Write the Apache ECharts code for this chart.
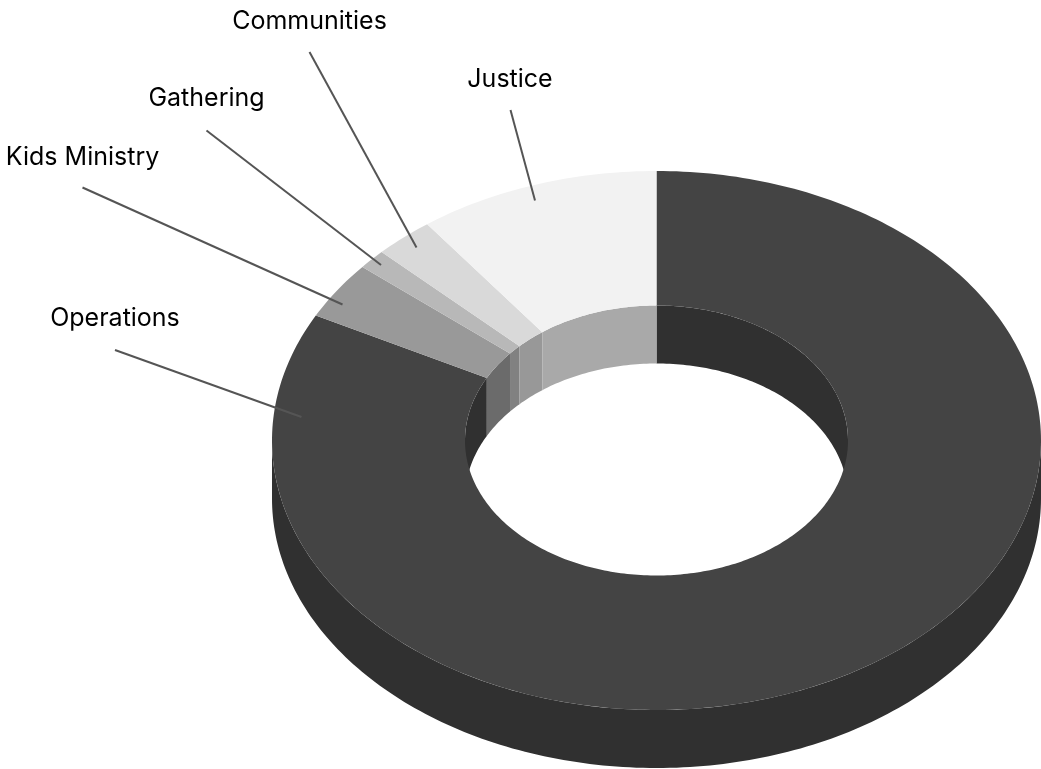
<!DOCTYPE html>
<html><head><meta charset="utf-8">
<style>html,body{margin:0;padding:0;background:#fff}#c{width:1041px;height:769px}</style>
<script src="https://cdn.jsdelivr.net/npm/echarts@6/dist/echarts.min.js"></script>
</head><body><div id="c"></div>
<script>
// ---- data (clockwise from 12 o'clock) ----
const categories = ['Operations','Kids Ministry','Gathering','Communities','Justice'];
const shares = [82.67, 3.47, 1.18, 2.51, 10.17];
const faceColors = ['#444444','#999999','#b8b8b8','#d9d9d9','#f2f2f2'];
// ---- layout (not data) ----
const centerX = 656.5, centerY = 440.5, outerRX = 384.5, outerRY = 269.5, innerRX = 191.5, innerRY = 135, depth = 58;
const wallShade = 0.7;
const labelCenters = [[115,318.5],[82.5,157.5],[206.5,98.5],[309.5,21.5],[510,79.5]];
const leaderStarts = [[115,350],[82.5,187.5],[206.5,130.5],[309.5,52],[510.5,110]];
const leaderEnds = [[301.5,417],[342.5,304.5],[381,265],[416.5,247.5],[535,200.5]];
const fontSize = 25, fontFamily = 'Inter';

const total = shares.reduce((a,b)=>a+b,0);
let run = 0;
const spans = shares.map(v=>{const s=run/total*360; run+=v; return [s, run/total*360];});
function ell(rx,ry,deg,dy){const t=deg*Math.PI/180;return [centerX+rx*Math.sin(t),centerY-ry*Math.cos(t)+dy];}
function arc(rx,ry,a,b,dy){const n=Math.max(2,Math.ceil(Math.abs(b-a)));const o=[];for(let i=0;i<=n;i++)o.push(ell(rx,ry,a+(b-a)*i/n,dy));return o;}
function shade(hex){const n=parseInt(hex.slice(1),16);const f=c=>Math.round(c*wallShade);return 'rgb('+f(n>>16)+','+f((n>>8)&255)+','+f(n&255)+')';}
function overlap(s,lo,hi){const a=Math.max(s[0],lo),b=Math.min(s[1],hi);return b>a?[a,b]:null;}
const poly=(api,pts,fill)=>({type:'polygon',shape:{points:pts.map(p=>api.coord(p))},style:{fill:fill,stroke:null}});
const sliceRows = shares.map((v,i)=>[i,v]);
const base = {type:'custom',coordinateSystem:'cartesian2d',clip:false,silent:true,animation:false,encode:{x:0,y:1}};

const option = {
  animation:false,
  backgroundColor:'#fff',
  grid:{left:0,right:0,top:0,bottom:0,containLabel:false},
  xAxis:{type:'value',min:0,max:1041,show:false},
  yAxis:{type:'value',min:0,max:769,inverse:true,show:false},
  series:[
    Object.assign({},base,{name:'outer wall',z:1,data:sliceRows,renderItem:(p,api)=>{
      const i=p.dataIndex,kids=[];
      [[90,270]].forEach(r=>{const o=overlap(spans[i],r[0],r[1]);if(o){
        kids.push(poly(api,arc(outerRX,outerRY,o[0],o[1],0).concat(arc(outerRX,outerRY,o[1],o[0],depth)),shade(faceColors[i])));}});
      return {type:'group',children:kids};
    }}),
    Object.assign({},base,{name:'inner wall',z:2,data:sliceRows,renderItem:(p,api)=>{
      const i=p.dataIndex,kids=[];
      [[0,90],[270,360]].forEach(r=>{const o=overlap(spans[i],r[0],r[1]);if(o){
        kids.push(poly(api,arc(innerRX,innerRY,o[0],o[1],0).concat(arc(innerRX,innerRY,o[1],o[0],depth)),shade(faceColors[i])));}});
      return {type:'group',children:kids};
    }}),
    Object.assign({},base,{name:'top face',z:3,data:sliceRows,renderItem:(p,api)=>{
      const i=p.dataIndex,s=spans[i];
      return poly(api,arc(outerRX,outerRY,s[0],s[1],0).concat(arc(innerRX,innerRY,s[1],s[0],0)),faceColors[i]);
    }}),
    Object.assign({},base,{name:'labels',z:4,data:sliceRows,renderItem:(p,api)=>{
      const i=p.dataIndex,a=api.coord(leaderStarts[i]),b=api.coord(leaderEnds[i]),c=api.coord(labelCenters[i]);
      return {type:'group',children:[
        {type:'line',shape:{x1:a[0],y1:a[1],x2:b[0],y2:b[1]},style:{stroke:'#555555',lineWidth:2}},
        {type:'text',x:c[0],y:c[1],style:{text:categories[i],fill:'#000',font:fontSize+'px '+fontFamily,align:'center',verticalAlign:'middle'}}
      ]};
    }})
  ]
};
echarts.init(document.getElementById('c'),null,{renderer:'canvas'}).setOption(option);
</script></body></html>
